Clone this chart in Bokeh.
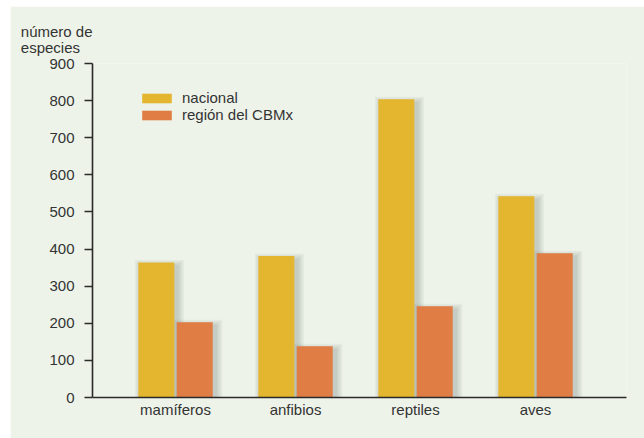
from bokeh.plotting import figure
from bokeh.models import (ColumnDataSource, FixedTicker, Legend, LegendItem, Title)
from bokeh.embed import file_html
from bokeh.resources import INLINE

# Number of species: national total vs. CBMx region
grupos = ["mamíferos", "anfibios", "reptiles", "aves"]
nacional = [364, 381, 804, 542]
region_cbmx = [203, 138, 246, 389]
y_ticks = [0, 100, 200, 300, 400, 500, 600, 700, 800, 900]

PANEL = "#eef3ea"
AMARILLO = "#e4b52e"
NARANJA = "#df7d45"
TEXTO = "#333333"
FUENTE = "Liberation Sans"

W, H = 634, 432
ML, MR, MT, MB = 82, 18, 57, 41
X0, X1 = -0.692, 3.758
Y0, Y1 = 0, 900

p = figure(width=W, height=H, output_backend="svg", toolbar_location=None,
           x_range=(X0, X1), y_range=(Y0, Y1),
           min_border_left=ML, min_border_right=MR,
           min_border_top=MT, min_border_bottom=MB,
           background_fill_color=PANEL, border_fill_color=PANEL,
           outline_line_color=None)
p.margin = (6, 0, 0, 10)
p.grid.visible = False

# pixel -> data unit conversions used for the soft drop shadows
fw, fh = W - ML - MR, H - MT - MB
px_x = (X1 - X0) / fw
px_y = (Y1 - Y0) / fh

xs = list(range(len(grupos)))
dodge, width = 0.16, 0.30
x_nac = [x - dodge for x in xs]
x_reg = [x + dodge for x in xs]

src_nac = ColumnDataSource(dict(x=x_nac, top=nacional))
src_reg = ColumnDataSource(dict(x=x_reg, top=region_cbmx))

# soft shadow behind every bar
for xc, vals in ((x_nac, nacional), (x_reg, region_cbmx)):
    for k in range(1, 6):
        grow = k * 1.3
        p.quad(left=[x - width / 2 + (3 - grow) * px_x for x in xc],
               right=[x + width / 2 + (3 + grow) * px_x for x in xc],
               top=[v - (4 - grow) * px_y for v in vals],
               bottom=[-10] * len(vals),
               fill_color="#6f7a70", fill_alpha=0.065, line_color=None)

r_nac = p.vbar(x="x", top="top", width=width, source=src_nac,
               fill_color=AMARILLO, line_color=None)
r_reg = p.vbar(x="x", top="top", width=width, source=src_reg,
               fill_color=NARANJA, line_color=None)

# axes
p.yaxis.ticker = FixedTicker(ticks=y_ticks)
p.yaxis.major_tick_out = 8
p.yaxis.major_tick_in = 0
p.yaxis.minor_tick_line_color = None
p.yaxis.major_label_standoff = 10
p.xaxis.ticker = FixedTicker(ticks=xs)
p.xaxis.major_label_overrides = {i: g for i, g in enumerate(grupos)}
p.xaxis.minor_tick_line_color = None
p.xaxis.major_tick_out = 0
p.xaxis.major_tick_in = 0
p.xaxis.major_label_standoff = 3
for ax in (p.xaxis, p.yaxis):
    ax.axis_line_color = "#2a2a2a"
    ax.axis_line_width = 1.6
    ax.major_tick_line_width = 1.6
    ax.major_label_text_font = FUENTE
    ax.major_label_text_font_size = "15px"
    ax.major_label_text_color = TEXTO
p.yaxis.major_tick_line_color = "#2a2a2a"
p.xaxis.major_tick_line_color = None

# y axis title, two lines ending at the axis
frame_w = W - ML - MR
p.add_layout(Title(text="número de\nespecies", align="right", offset=frame_w,
                   standoff=15, text_line_height=0.95,
                   text_font=FUENTE, text_font_size="15px",
                   text_font_style="normal", text_color=TEXTO), "above")

legend = Legend(items=[LegendItem(label="nacional", renderers=[r_nac]),
                       LegendItem(label="región del CBMx", renderers=[r_reg])],
                location=(46, 274), orientation="vertical",
                glyph_width=37, glyph_height=12, label_height=12,
                label_standoff=7, spacing=0, padding=0, margin=0,
                border_line_color=None, background_fill_alpha=0,
                label_text_font=FUENTE, label_text_font_size="15px",
                label_text_color=TEXTO)
p.add_layout(legend)

open("out.html", "w").write(file_html(p, INLINE))
